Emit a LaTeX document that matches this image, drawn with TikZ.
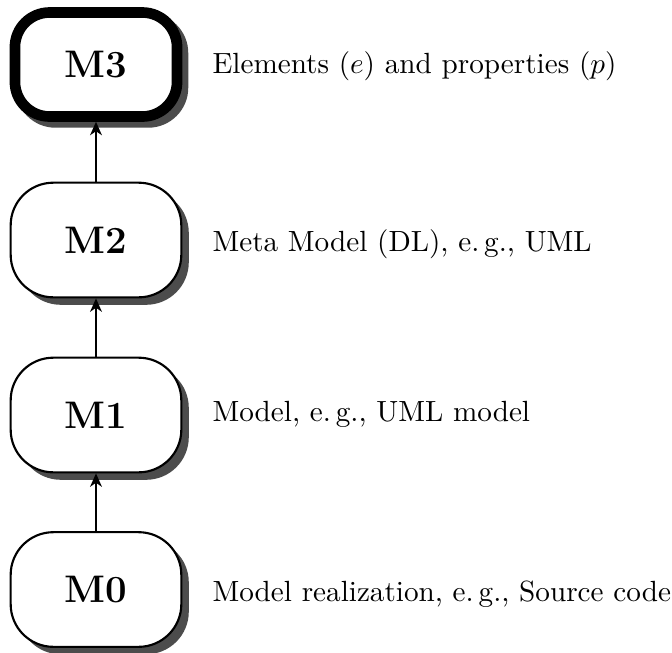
\documentclass[tikz,border=0pt]{standalone}
\usetikzlibrary{shadows,arrows.meta}
\begin{document}
\begin{tikzpicture}[x=0.375pt,y=-0.375pt,
  boxbase/.style={draw, fill=white, font=\Large\bfseries, inner sep=0pt},
  level/.style={boxbase, line width=0.8pt, rounded corners=16pt,
    minimum width=64pt, minimum height=43pt,
    drop shadow={shadow xshift=2.8pt,shadow yshift=-2.8pt,opacity=1,fill=black!70}},
  toplevel/.style={boxbase, line width=4pt, rounded corners=13pt,
    minimum width=60.8pt, minimum height=39pt,
    drop shadow={shadow xshift=2.2pt,shadow yshift=-2.2pt,opacity=1,fill=black!70,draw=black!70,line width=4pt}},
  desc/.style={anchor=base west, inner sep=0pt, font=\fontsize{10.95}{13.6}\selectfont},
  up/.style={-{Stealth[length=5pt,width=4.4pt,inset=1.5pt]}, line width=0.8pt}
]
\useasboundingbox (0,0) rectangle (672,652);
\node[toplevel] (m3) at (96,64.5) {M3};
\node[level] (m2) at (96,240) {M2};
\node[level] (m1) at (96,415) {M1};
\node[level] (m0) at (96,589.5) {M0};
\draw[up] (m0.north) -- (m1.south);
\draw[up] (m1.north) -- (m2.south);
\draw[up] (m2.north) -- (m3.south);
\node[desc] (d3) at (212,73.3) {Elements ($e$) and properties ($p$)};
\node[desc] (d2) at (212,251) {Meta Model (DL), e.\,g., UML};
\node[desc] (d1) at (212,421.7) {Model, e.\,g., UML model};
\node[desc] (d0) at (212,601) {Model realization, e.\,g., Source code};
\end{tikzpicture}
\end{document}
